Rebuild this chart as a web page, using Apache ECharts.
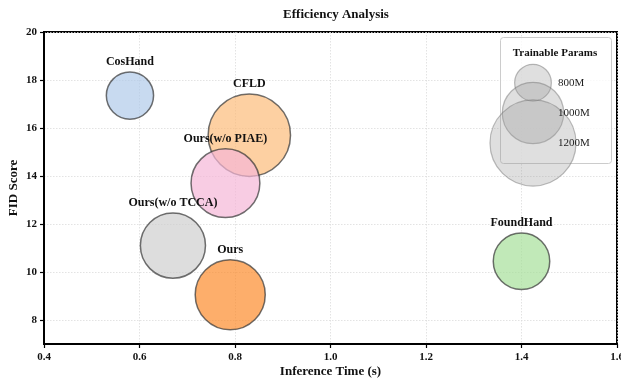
<!DOCTYPE html>
<html>
<head>
<meta charset="utf-8">
<script src="https://cdn.jsdelivr.net/npm/echarts@6/dist/echarts.min.js"></script>
<style>html,body{margin:0;padding:0;background:#fff}#c{width:621px;height:381px}</style>
</head>
<body>
<div id="c"></div>
<script>
// ---- data ----
const methods = ['CosHand', 'CFLD', 'Ours(w/o PIAE)', 'Ours(w/o TCCA)', 'Ours', 'FoundHand'];
const inferenceTime = [0.58, 0.83, 0.78, 0.67, 0.79, 1.40];
const fidScore = [17.35, 15.7, 13.7, 11.1, 9.05, 10.45];
const paramsM = [885, 1170, 1060, 1030, 1070, 960];
const legendParams = [800, 1000, 1200];
const legendLabels = ['800M', '1000M', '1200M'];
const xTicks = [0.4, 0.6, 0.8, 1.0, 1.2, 1.4, 1.6];
const yTicks = [8, 10, 12, 14, 16, 18, 20];

// ---- styles ----
const colors = ['#b0cae9', '#fcbc7a', '#f5b6d7', '#cecece', '#fc8b2c', '#a7e09a'];
const FONT = '"Liberation Serif", "DejaVu Serif", serif';
function sizeOf(p) { return 0.1233 * p - 61.9; }

const chart = echarts.init(document.getElementById('c'));

const data = methods.map((m, i) => ({
  name: m,
  value: [inferenceTime[i], fidScore[i], paramsM[i]],
  itemStyle: { color: colors[i] }
}));

// legend graphics
const lgX = 533, lgY = [82.7, 113, 143];
const legendGraphics = [
  { type: 'rect', left: 500, top: 37, shape: { width: 111, height: 126, r: 3 },
    style: { fill: 'rgba(255,255,255,0.8)', stroke: '#cccccc', lineWidth: 1 }, z: 10 },
  { type: 'text', x: 555, y: 53, style: { text: 'Trainable Params', font: 'bold 11px ' + FONT,
    fill: '#111', align: 'center', verticalAlign: 'middle' }, z: 11 }
];
legendParams.forEach((p, i) => {
  const r = sizeOf(p) / 2;
  legendGraphics.push({ type: 'circle', shape: { cx: lgX, cy: lgY[i], r: r },
    style: { fill: 'rgba(150,150,150,0.3)', stroke: 'rgba(120,120,120,0.5)', lineWidth: 1.2 }, z: 11 });
  legendGraphics.push({ type: 'text', x: 558, y: lgY[i], style: { text: legendLabels[i],
    font: '11px ' + FONT, fill: '#222', align: 'left', verticalAlign: 'middle' }, z: 12 });
});

chart.setOption({
  animation: false,
  title: {
    text: 'Efficiency Analysis', left: 331, top: 3, textAlign: 'center',
    textStyle: { fontFamily: FONT, fontWeight: 'bold', fontSize: 13, color: '#111' }
  },
  grid: { left: 44, right: 4, top: 32, bottom: 37, containLabel: false, outerBoundsMode: 'none',
    show: true, borderColor: '#000', borderWidth: 2 },
  xAxis: {
    type: 'value', min: 0.4, max: 1.6, interval: 0.2,
    name: 'Inference Time (s)', nameLocation: 'middle', nameGap: 21, nameMoveOverlap: false,
    nameTextStyle: { fontFamily: FONT, fontWeight: 'bold', fontSize: 13, color: '#111' },
    axisLine: { show: true, lineStyle: { color: '#000', width: 2 } },
    axisTick: { show: true, length: 4, lineStyle: { color: '#000', width: 1.2 } },
    axisLabel: { fontFamily: FONT, fontWeight: 'bold', fontSize: 11, color: '#111', margin: 8,
      formatter: v => v.toFixed(1) },
    splitLine: { show: true, lineStyle: { color: '#dcdcdc', type: [1.5, 1.5], width: 0.8 } }
  },
  yAxis: {
    type: 'value', min: 7, max: 20,
    name: 'FID Score', nameLocation: 'middle', nameGap: 24, nameMoveOverlap: false,
    nameTextStyle: { fontFamily: FONT, fontWeight: 'bold', fontSize: 13, color: '#111' },
    axisLine: { show: true, lineStyle: { color: '#000', width: 2 } },
    axisTick: { show: true, length: 4, customValues: yTicks, lineStyle: { color: '#000', width: 1.2 } },
    axisLabel: { fontFamily: FONT, fontWeight: 'bold', fontSize: 11, color: '#111', margin: 7,
      customValues: yTicks, formatter: v => String(v) },
    splitLine: { show: true, lineStyle: { color: '#dcdcdc', type: [1.5, 1.5], width: 0.8 } }
  },
  series: [{
    type: 'scatter',
    data: data,
    symbol: 'circle',
    symbolSize: v => sizeOf(v[2]),
    itemStyle: { opacity: 0.7, borderColor: '#333', borderWidth: 1.5 },
    label: {
      show: true, position: 'top', distance: 3, formatter: p => p.name,
      fontFamily: FONT, fontWeight: 'bold', fontSize: 12, color: '#111', opacity: 1
    },
    emphasis: { disabled: true }
  }],
  graphic: legendGraphics
});
</script>
</body>
</html>
